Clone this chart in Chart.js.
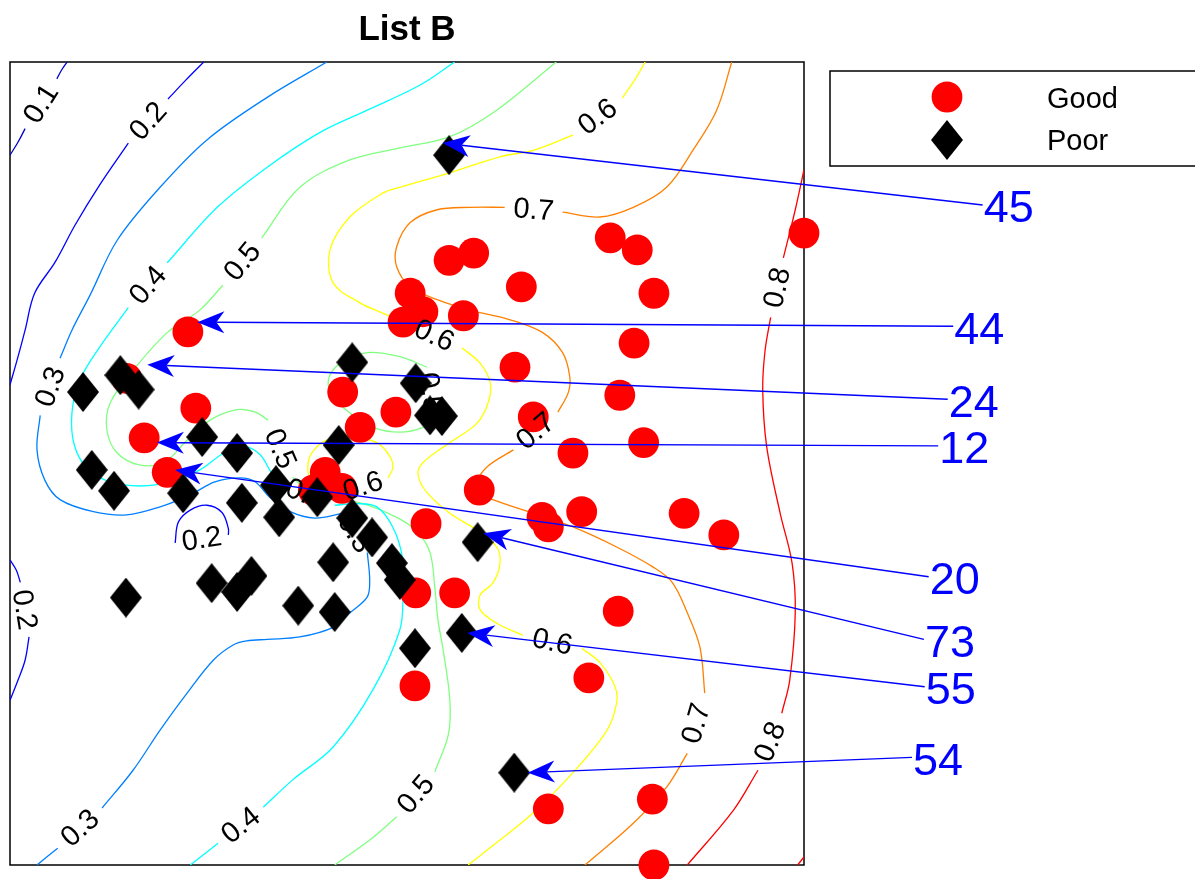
<!DOCTYPE html>
<html>
<head>
<meta charset="utf-8">
<title>List B</title>
<script src="https://cdn.jsdelivr.net/npm/chart.js@4.4.1/dist/chart.umd.min.js"></script>
<style>
  html, body { margin: 0; padding: 0; background: #ffffff; }
  canvas { display: block; }
</style>
</head>
<body>
<canvas id="chart" width="1195" height="879"></canvas>
<script>
// ---- Samples (normalised map coordinates, 0..100 on both axes) ----
const goodPoints = [
  [100.0,78.7],[75.6,78.1],[79.0,76.6],[55.3,75.3],[58.4,76.2],[64.4,72.0],[81.1,71.2],
  [50.4,71.2],[52.0,68.9],[49.5,67.6],[57.1,68.4],[78.6,65.0],[63.6,62.0],[76.8,58.5],
  [65.9,55.8],[70.9,51.3],[79.8,52.6],[59.1,46.7],[67.0,43.3],[67.8,42.1],[72.0,44.0],
  [84.9,43.8],[89.9,41.1],[52.4,42.5],[41.9,58.9],[48.6,56.4],[44.1,54.5],[39.7,48.9],
  [38.2,46.7],[41.8,46.9],[51.1,33.9],[56.0,33.9],[76.6,31.6],[51.0,22.3],[72.9,23.3],
  [67.8,7.0],[80.9,8.2],[81.1,0.0],[22.4,66.4],[14.7,60.6],[23.4,56.9],[16.9,53.2],[19.8,48.9]
];
const poorPoints = [
  [55.3,88.4],[9.2,58.9],[13.9,61.0],[16.2,59.2],[24.2,53.3],[28.6,51.3],[10.3,49.2],
  [13.1,46.6],[21.8,46.3],[29.2,45.1],[33.9,43.3],[33.5,47.3],[38.7,45.8],[43.1,62.6],
  [51.1,60.0],[52.9,56.0],[54.4,55.9],[41.4,52.3],[43.1,43.2],[45.6,40.8],[48.1,37.6],
  [49.1,35.5],[40.7,37.7],[14.6,33.3],[25.4,35.1],[28.6,34.0],[30.4,36.0],[36.3,32.3],
  [40.9,31.5],[51.0,27.0],[56.9,28.9],[58.9,40.2],[63.5,11.5]
];

// ---- Annotated samples: id, arrow tip (at the sample) and label anchor ----
const calloutIds   = ['45', '44', '24', '12', '20', '73', '55', '54'];
const calloutTips  = [[54.5,89.9],[23.6,67.6],[17.3,62.3],[18.5,52.6],[20.8,49.2],[59.6,41.3],[57.6,28.9],[65.2,11.5]];
const calloutTails = [[122.5,82.2],[118.8,67.1],[118.1,58.0],[116.9,52.2],[115.7,35.9],[115.1,28.1],[115.2,22.2],[113.6,13.4]];

// ---- Iso-lines of the probability surface ----
// Each path is a list of segments; a level label sits in the gap between consecutive segments.
// Loops are closed curves whose label sits in the gap between their last and first vertex.
const levels = [0.1, 0.2, 0.3, 0.4, 0.5, 0.6, 0.7, 0.8];

const iso01 = [
  [[[7.2,100],[6.5,99.0],[5.9,97.9]],
   [[1.9,91.7],[1.0,90.0],[0,88.4]]]
];
const iso02 = [
  [[[24.4,100],[22.2,97.8],[19.9,95.4]],
   [[14.9,89.9],[11.3,84.7],[8.2,79.7],[5.7,75.1],[3.1,71.2],[1.9,66.6],[0.9,62.9],[0,59.8]]],
  [[[0,38.0],[0.8,36.7],[1.3,35.2]],
   [[2.4,28.4],[1.9,25.5],[1.0,23.0],[0,20.5]]]
];
const iso02Loops = [
  [[20.8,40.1],[21.2,42.7],[22.7,44.2],[24.8,44.8],[26.7,43.9],[27.5,41.9],[27.5,41.1]]
];
const iso03 = [
  [[[39.9,100],[32.4,95.6],[24.8,90.3],[18.9,84.4],[13.5,77.8],[10.1,71.0],[7.8,66.6],[6.3,63.1]],
   [[3.8,56.0],[3.4,51.7],[4.4,47.9],[6.3,45.5],[10.5,44.0],[14.7,43.6],[18.9,44.6],[22.7,46.1],
    [25.8,47.7],[29.0,48.2],[30.9,47.7],[32.7,45.8],[35.3,44.0],[38.4,43.2],[41.9,43.8]],
   [[45.0,38.9],[45.3,35.5],[45.0,33.4],[42.8,31.4],[40.7,29.6],[36.5,28.4],[32.4,28.1],[29.8,27.9],
    [28.1,27.4],[25.6,25.5],[22.3,21.4],[18.9,16.8],[15.5,11.8],[11.6,7.1]],
   [[6.0,2.1],[3.4,0]]]
];
const iso04 = [
  [[[56.0,100],[51.6,97.1],[45.0,94.0],[39.0,91.2],[32.4,86.9],[26.1,81.9],[19.8,75.0]],
   [[14.9,69.4],[11.3,64.5],[8.8,60.4],[7.8,56.3],[8.1,52.3],[9.7,49.4],[12.6,47.7],[16.4,47.2],
    [20.2,47.7],[23.9,49.2],[27.1,51.4],[29.6,52.1],[31.5,51.1],[32.7,49.2],[33.6,47.6]],
   [[40.9,44.8],[43.7,45.0],[46.2,44.6],[48.2,42.1],[49.4,38.4],[49.5,33.9],[49.1,29.3],[45.7,21.8],
    [40.7,14.7],[35.6,10.6],[31.9,7.2]],
   [[26.2,2.7],[22.7,0]]]
];
const iso05 = [
  [[[68.8,100],[61.3,94.0],[55.4,90.7],[49.1,89.3],[42.8,87.8],[36.5,84.4],[31.7,78.1]],
   [[26.8,72.2],[23.9,69.1],[19.8,66.3],[15.5,61.6],[12.6,57.5],[12.2,54.2],[13.5,51.3],[16.4,49.8],
    [19.5,50.2],[22.3,52.9],[25.2,55.4],[28.6,56.7],[30.9,56.4],[32.5,55.4]],
   [[35.6,48.3],[37.8,46.3],[39.9,45.7],[44.1,45.1],[48.7,43.3],[51.3,41.5],[52.9,38.9],[53.5,34.6],
    [53.9,30.5],[54.5,27.1],[55.4,20.5],[55.2,16.2],[53.5,11.6]],
   [[48.7,6.0],[45.3,3.1],[40.9,0]]]
];
const iso05Loops = [
  [[53.5,55.7],[52.0,54.5],[49.1,53.9],[45.7,54.5],[42.8,56.3],[40.7,58.3],[40.1,60.4],[41.6,62.5],
   [45.0,63.8],[49.1,63.3],[52.5,62.0]]
];
const iso06 = [
  [[[80.0,100],[78.7,97.8],[77.1,95.5]],
   [[70.9,90.9],[65.9,89.0],[61.7,88.2],[55.4,86.2],[49.1,84.4],[47.0,83.7],[42.8,80.7],[40.3,76.6],
    [40.7,72.5],[44.1,70.0],[47.0,68.7],[50.0,67.5]],
   [[56.9,64.4],[59.2,62.5],[60.5,60.0],[60.2,57.5],[58.8,55.0],[55.4,52.6],[52.0,50.1],[51.4,48.6],
    [52.5,46.4],[55.4,43.8],[58.8,41.7],[61.3,39.6],[61.7,37.4],[60.8,35.1],[59.2,33.6],[59.2,31.8],
    [61.3,30.1],[64.6,28.6]],
   [[72.0,27.0],[74.3,25.2],[76.2,22.2],[76.4,20.2],[75.2,16.8],[70.9,11.5],[65.9,6.5],[61.7,3.1],[57.7,0]]]
];
const iso06Loops = [
  [[47.6,48.2],[48.2,49.4],[47.9,50.8],[46.2,52.6],[42.8,53.3],[39.9,52.9],[38.0,51.3],[37.5,49.4],
   [38.0,47.6],[39.3,46.3],[41.3,46.2]]
];
const iso07 = [
  [[[90.9,100],[89.0,94.0],[86.0,89.0],[82.7,84.4],[78.5,81.9],[74.3,80.7],[69.6,81.3]],
   [[62.3,81.9],[57.9,81.9],[53.8,81.6],[50.4,80.0],[48.7,77.0],[48.7,74.5],[50.4,72.0],[53.8,70.4],
    [57.9,69.1],[63.0,67.9],[67.1,66.3],[69.6,63.8],[70.5,60.8],[70.3,58.8],[69.0,56.4]],
   [[63.4,51.7],[60.1,49.6],[58.8,47.6],[59.2,46.3],[60.8,45.5],[65.9,43.8],[70.9,42.1],[76.4,39.6],
    [81.0,37.1],[83.4,35.2],[85.3,31.4],[86.9,27.1],[87.5,21.4]],
   [[85.3,13.9],[82.7,9.7],[78.5,5.2],[72.4,0]]]
];
const iso08 = [
  [[[100,86.6],[98.9,81.6],[97.4,75.6]],
   [[95.8,68.2],[95.1,64.1],[94.8,59.2],[95.3,52.1],[97.0,43.8],[98.5,37.6],[98.9,31.4],[98.2,23.0],[97.2,18.9]],
   [[94.2,11.8],[91.1,6.8],[85.3,0]]],
  [[[99.2,0],[100,1.0]]]
];

// ---- Styling ----
const FONT = "'Liberation Sans', Arial, Helvetica, sans-serif";
const levelColors = ['#0000c8', '#0000ff', '#0080ff', '#00ffff', '#80ff80', '#ffff00', '#ff8000', '#ff0000'];
const isoPaths = [iso01, iso02, iso03, iso04, iso05, iso06, iso07, iso08];
const isoLoops = [[], iso02Loops, [], [], iso05Loops, iso06Loops, [], []];

// Tall diamond marker used for the "Poor" group
function makeDiamond(w, h, color) {
  const cv = document.createElement('canvas');
  cv.width = w; cv.height = h;
  const g = cv.getContext('2d');
  g.fillStyle = color;
  g.beginPath();
  g.moveTo(w / 2, 0); g.lineTo(w, h / 2); g.lineTo(w / 2, h); g.lineTo(0, h / 2);
  g.closePath(); g.fill();
  return cv;
}
const diamondMarker = makeDiamond(32, 40, '#000000');

const toXY = pts => pts.map(([x, y]) => ({ x, y }));

const datasets = [
  { label: 'Good', data: toXY(goodPoints), pointStyle: 'circle', pointRadius: 15.4,
    backgroundColor: '#ff0000', borderWidth: 0, order: 3, clip: false },
  { label: 'Poor', data: toXY(poorPoints), pointStyle: diamondMarker, pointRadius: 16,
    backgroundColor: '#000000', borderWidth: 0, order: 1, clip: false }
];
levels.forEach((lv, i) => {
  const segs = [];
  isoPaths[i].forEach(path => path.forEach(seg => segs.push(seg)));
  isoLoops[i].forEach(loop => segs.push(loop));
  segs.forEach(seg => datasets.push({
    label: 'iso ' + lv.toFixed(1), data: toXY(seg), showLine: true, pointRadius: 0,
    borderColor: levelColors[i], borderWidth: 1.3, tension: 0.35, order: 10
  }));
});

// Frame around the plotting area
const framePlugin = {
  id: 'frame',
  beforeDatasetsDraw(chart) {
    const { ctx, chartArea: a } = chart;
    ctx.save();
    ctx.strokeStyle = '#000'; ctx.lineWidth = 1.5;
    ctx.strokeRect(a.left, a.top, a.right - a.left, a.bottom - a.top);
    ctx.restore();
  }
};

// Level labels, placed in the gaps of the iso-lines (drawn above the "Good" markers)
const levelLabelPlugin = {
  id: 'levelLabels',
  afterDatasetDraw(chart, args) {
    if (args.index !== 0) return;
    const { ctx, scales: { x: sx, y: sy } } = chart;
    const px = p => [sx.getPixelForValue(p[0]), sy.getPixelForValue(p[1])];
    const put = (a, b, text) => {
      const [x1, y1] = px(a), [x2, y2] = px(b);
      let ang = Math.atan2(y2 - y1, x2 - x1);
      if (ang > Math.PI / 2) ang -= Math.PI;
      if (ang < -Math.PI / 2) ang += Math.PI;
      ctx.save();
      ctx.translate((x1 + x2) / 2, (y1 + y2) / 2);
      ctx.rotate(ang);
      ctx.fillText(text, 0, 1);
      ctx.restore();
    };
    ctx.save();
    ctx.font = '29px ' + FONT;
    ctx.fillStyle = '#000';
    ctx.textAlign = 'center';
    ctx.textBaseline = 'middle';
    levels.forEach((lv, i) => {
      const t = lv.toFixed(1);
      isoPaths[i].forEach(path => {
        for (let k = 0; k < path.length - 1; k++) {
          put(path[k][path[k].length - 1], path[k + 1][0], t);
        }
      });
      isoLoops[i].forEach(loop => put(loop[loop.length - 1], loop[0], t));
    });
    ctx.restore();
  }
};

// Arrows from the id labels to their samples
const calloutPlugin = {
  id: 'callouts',
  afterDatasetsDraw(chart) {
    const { ctx, scales: { x: sx, y: sy } } = chart;
    ctx.save();
    calloutIds.forEach((id, i) => {
      const tx = sx.getPixelForValue(calloutTips[i][0]), ty = sy.getPixelForValue(calloutTips[i][1]);
      const ax = sx.getPixelForValue(calloutTails[i][0]), ay = sy.getPixelForValue(calloutTails[i][1]);
      const len = Math.hypot(ax - tx, ay - ty);
      const ux = (ax - tx) / len, uy = (ay - ty) / len;
      const nx = -uy, ny = ux;
      const L = 27, W = 11, N = 19;
      ctx.strokeStyle = '#0000ff'; ctx.lineWidth = 1.4;
      ctx.beginPath();
      ctx.moveTo(ax, ay);
      ctx.lineTo(tx + ux * N, ty + uy * N);
      ctx.stroke();
      ctx.fillStyle = '#0000ff';
      ctx.beginPath();
      ctx.moveTo(tx, ty);
      ctx.lineTo(tx + ux * L + nx * W, ty + uy * L + ny * W);
      ctx.lineTo(tx + ux * N, ty + uy * N);
      ctx.lineTo(tx + ux * L - nx * W, ty + uy * L - ny * W);
      ctx.closePath();
      ctx.fill();
      ctx.font = '45px ' + FONT;
      ctx.textAlign = 'left';
      ctx.textBaseline = 'alphabetic';
      ctx.fillText(id, ax + 1, ay + 17.5);
    });
    ctx.restore();
  }
};

// Title and boxed legend
const decorPlugin = {
  id: 'decor',
  afterDraw(chart) {
    const { ctx, chartArea: a } = chart;
    ctx.save();
    ctx.fillStyle = '#000';
    ctx.font = 'bold 35px ' + FONT;
    ctx.textAlign = 'center';
    ctx.textBaseline = 'alphabetic';
    ctx.fillText('List B', (a.left + a.right) / 2, 40);

    const bx = a.right + 26, by = a.top + 9;
    ctx.lineWidth = 1.5; ctx.strokeStyle = '#000';
    ctx.strokeRect(bx, by, 400, 95);
    const mx = a.right + 143;
    ctx.fillStyle = '#ff0000';
    ctx.beginPath(); ctx.arc(mx, by + 26, 15.4, 0, Math.PI * 2); ctx.fill();
    ctx.drawImage(diamondMarker, mx - 16, by + 69 - 20);
    ctx.fillStyle = '#000';
    ctx.font = '29px ' + FONT;
    ctx.textAlign = 'left';
    ctx.fillText(datasets[0].label, a.right + 243, by + 37);
    ctx.fillText(datasets[1].label, a.right + 243, by + 79);
    ctx.restore();
  }
};

new Chart(document.getElementById('chart'), {
  type: 'scatter',
  data: { datasets },
  options: {
    responsive: false,
    devicePixelRatio: 1,
    animation: false,
    events: [],
    layout: { autoPadding: false, padding: { left: 10, top: 62, right: 391, bottom: 14 } },
    scales: {
      x: { type: 'linear', min: 0, max: 100, display: false },
      y: { type: 'linear', min: 0, max: 100, display: false }
    },
    plugins: { legend: { display: false }, tooltip: { enabled: false }, title: { display: false } }
  },
  plugins: [framePlugin, levelLabelPlugin, calloutPlugin, decorPlugin]
});
</script>
</body>
</html>
